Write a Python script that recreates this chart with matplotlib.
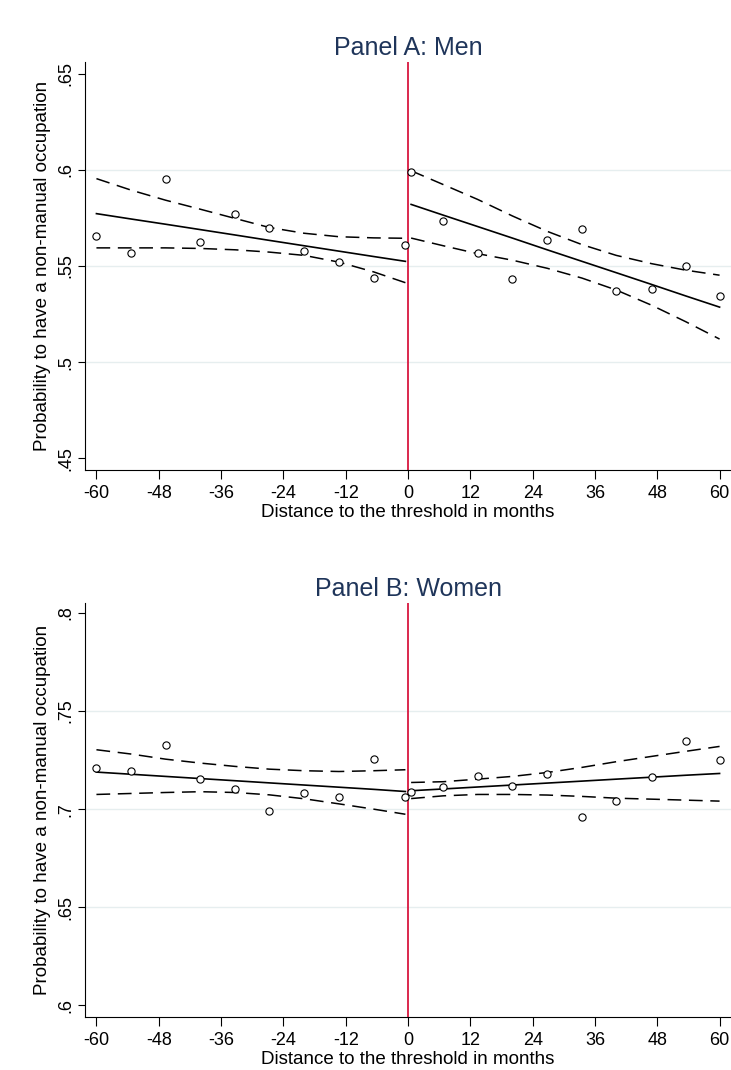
import matplotlib
matplotlib.use("Agg")
import matplotlib.pyplot as plt

plt.rcParams['font.family'] = ['Liberation Sans', 'DejaVu Sans']

# bin positions (months to threshold)
x_left = [-60, -53.3, -46.7, -40, -33.3, -26.7, -20, -13.3, -6.6, -0.5]
x_right = [0.6, 6.8, 13.4, 20.1, 26.8, 33.5, 40.1, 46.9, 53.5, 60]

# Panel A: Men
men_pts_left = [.5656, .5567, .595, .5627, .5769, .5695, .558, .552, .5438, .5611]
men_pts_right = [.5991, .5735, .5565, .543, .5637, .5693, .5368, .5378, .5498, .5344]
men_fit_left = [.5772, .5744, .5717, .5689, .5661, .5633, .5605, .5577, .5549, .5524]
men_fit_right = [.582, .5764, .5705, .5645, .5584, .5524, .5465, .5404, .5344, .5286]
men_hi_left = [.5954, .5894, .5842, .5795, .5747, .570, .567, .5652, .5646, .5644]
men_lo_left = [.5594, .5594, .5594, .5591, .5584, .5572, .5555, .552, .5469, .5413]
men_hi_right = [.5995, .5923, .5846, .576, .568, .5611, .5555, .5512, .5478, .5452]
men_lo_right = [.5645, .5605, .5564, .553, .5488, .5437, .5375, .5296, .521, .512]

# Panel B: Women
wom_pts_left = [.7209, .7197, .7325, .7152, .7102, .6993, .708, .706, .7257, .706]
wom_pts_right = [.709, .7111, .7169, .7117, .7177, .6959, .7043, .7163, .7346, .7249]
wom_fit_left = [.7189, .7178, .7167, .7156, .7145, .7134, .7123, .7112, .7101, .709]
wom_fit_right = [.7094, .7103, .7113, .7123, .7133, .7143, .7153, .7163, .7173, .7182]
wom_hi_left = [.7303, .7281, .7255, .7235, .7218, .7204, .7196, .7192, .7196, .7201]
wom_lo_left = [.7075, .708, .7085, .7089, .7085, .7073, .7053, .7027, .70, .6974]
wom_hi_right = [.7136, .714, .7153, .7167, .7187, .7213, .7242, .7269, .7295, .732]
wom_lo_right = [.7054, .7068, .7075, .7075, .7072, .7065, .7056, .7051, .7046, .7041]

xticks = [-60, -48, -36, -24, -12, 0, 12, 24, 36, 48, 60]
men_yticks = [.45, .5, .55, .6, .65]
men_ylabels = ['.45', '.5', '.55', '.6', '.65']
wom_yticks = [.6, .65, .7, .75, .8]
wom_ylabels = ['.6', '.65', '.7', '.75', '.8']

navy = '#1f355a'
red = '#d8173f'

fig = plt.figure(figsize=(7.31, 10.70), dpi=100)


def panel(rect, title, ylim, yticks, ylabels, pl, pr, fl, fr, hl, ll, hr, lr):
    ax = fig.add_axes(rect)
    for y in yticks[1:-1]:
        ax.axhline(y, color='#e6eeef', lw=1, zorder=0)
    ax.axvline(0, color=red, lw=1.3, zorder=1)
    for xs, hi, lo, fit, pts in [(x_left, hl, ll, fl, pl), (x_right, hr, lr, fr, pr)]:
        ax.plot(xs, hi, color='black', lw=1.1, dashes=(9, 5), zorder=2)
        ax.plot(xs, lo, color='black', lw=1.1, dashes=(9, 5), zorder=2)
        ax.plot(xs, fit, color='black', lw=1.2, zorder=3)
        ax.plot(xs, pts, 'o', ms=5.2, mfc='white', mec='black', mew=0.8, zorder=4)
    ax.set_xlim(-62.2, 62.2)
    ax.set_ylim(*ylim)
    ax.set_xticks(xticks)
    ax.set_xticklabels([str(t) for t in xticks], fontsize=13)
    ax.set_yticks(yticks)
    ax.set_yticklabels(ylabels, fontsize=13, rotation=90, va='center')
    ax.tick_params(axis='x', direction='out', length=6.5, width=0.8, pad=4.5)
    ax.tick_params(axis='y', direction='out', length=5, width=0.8, pad=3)
    for s in ['top', 'right']:
        ax.spines[s].set_visible(False)
    for s in ['left', 'bottom']:
        ax.spines[s].set_linewidth(0.8)
    ax.set_xlabel('Distance to the threshold in months', fontsize=13.5, labelpad=1)
    ax.set_ylabel('Probability to have a non-manual occupation', fontsize=13.5, labelpad=4)
    ax.set_title(title, fontsize=18, color=navy, pad=5)
    return ax


panel([0.1163, 0.5607, 0.8837, 0.3813], 'Panel A: Men', (.4439, .656), men_yticks, men_ylabels,
      men_pts_left, men_pts_right, men_fit_left, men_fit_right,
      men_hi_left, men_lo_left, men_hi_right, men_lo_right)
panel([0.1163, 0.0495, 0.8837, 0.3869], 'Panel B: Women', (.594, .8051), wom_yticks, wom_ylabels,
      wom_pts_left, wom_pts_right, wom_fit_left, wom_fit_right,
      wom_hi_left, wom_lo_left, wom_hi_right, wom_lo_right)

fig.savefig('out.png', dpi=100)
